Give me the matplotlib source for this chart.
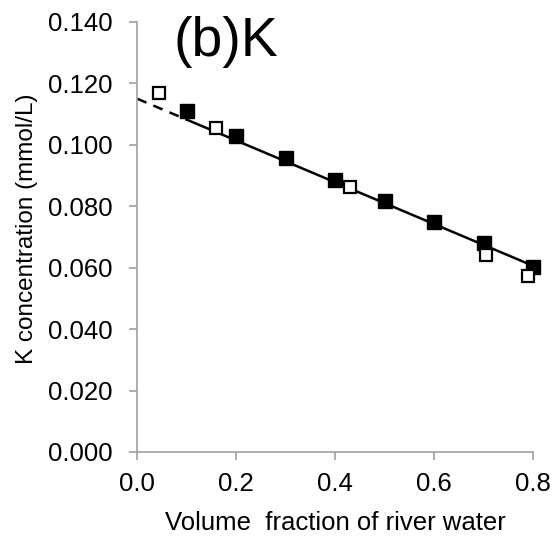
import matplotlib.pyplot as plt
import numpy as np

plt.rcParams['font.family'] = ['Liberation Sans', 'DejaVu Sans']

# filled squares (mixing experiment)
x_filled = [0.1, 0.2, 0.3, 0.4, 0.5, 0.6, 0.7, 0.8]
y_filled = [0.111, 0.103, 0.0958, 0.0886, 0.0818, 0.0749, 0.068, 0.0603]

# open squares (field samples)
x_open = [0.045, 0.16, 0.43, 0.705, 0.79]
y_open = [0.117, 0.1055, 0.0863, 0.064, 0.0573]

# mixing line
line_x_dash = [0.0, 0.1]
line_x_solid = [0.1, 0.8]
intercept = 0.1150
slope = -0.0680

fig = plt.figure(figsize=(5.6, 5.43), dpi=100)
ax = fig.add_axes([0.245, 0.1676, 0.707, 0.792])

ax.plot(line_x_dash, [intercept + slope * v for v in line_x_dash], color='black',
        lw=1.8, ls=(0, (4, 3)), zorder=2)
ax.plot(line_x_solid, [intercept + slope * v for v in line_x_solid], color='black',
        lw=1.8, zorder=2)
ax.plot(x_filled, y_filled, 's', color='black', ms=9.5, zorder=3, clip_on=False)
ax.plot(x_open, y_open, 's', mfc='white', mec='black', mew=1.6, ms=9, zorder=4, clip_on=False)

ax.set_xlim(0, 0.8)
ax.set_ylim(0, 0.14)
ax.set_xticks(np.arange(0, 0.81, 0.2))
ax.set_yticks(np.arange(0, 0.141, 0.02))
ax.set_xticklabels(['0.0', '0.2', '0.4', '0.6', '0.8'])
ax.set_yticklabels(['%.3f' % v for v in np.arange(0, 0.141, 0.02)])

for s in ['top', 'right']:
    ax.spines[s].set_visible(False)
for s in ['left', 'bottom']:
    ax.spines[s].set_color('#a0a0a0')
    ax.spines[s].set_linewidth(1.2)
ax.tick_params(colors='#a0a0a0', labelcolor='black', labelsize=18.5, length=5.5,
               width=1.2, direction='out')
ax.tick_params(axis='x', pad=9)
ax.tick_params(axis='y', pad=12)

ax.set_xlabel('Volume  fraction of river water', fontsize=18.5, labelpad=11)
ax.set_ylabel('K concentration (mmol/L)', fontsize=17.5)
ax.yaxis.set_label_coords(-0.25, 0.52)
ax.text(0.18, 0.1335, '(b)K', fontsize=40, ha='center', va='center')

fig.savefig('out.png', dpi=100)
